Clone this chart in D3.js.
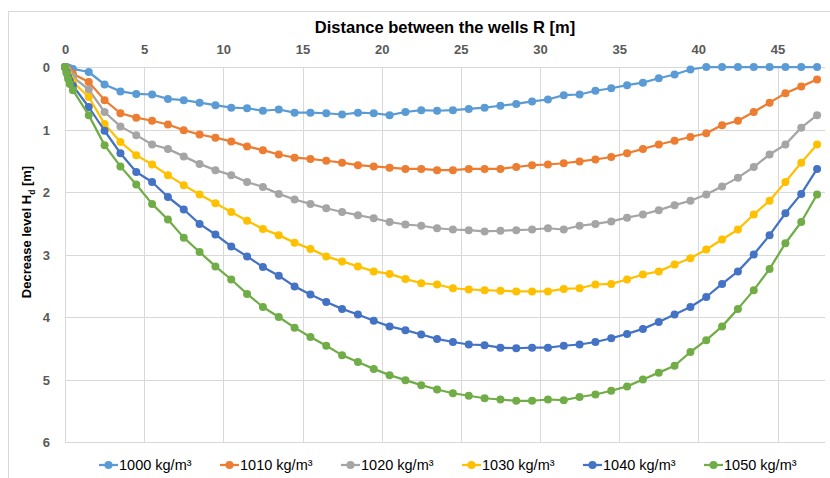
<!DOCTYPE html>
<html>
    <head>
        <script src="https://cdn.jsdelivr.net/npm/d3@7/dist/d3.min.js"></script>
    </head>
    <style>
        body { margin: 0; background: #fff; }
        text { font-family: "Liberation Sans", Arial, sans-serif; }
    </style>
    <body>
        <div id="canvas"></div>
        <script>
            // distance R [m] of every measured point
            var distances = [0, 0.1, 0.2, 0.3, 0.5, 1.5, 2.5, 3.5, 4.5, 5.5, 6.5, 7.5, 8.5, 9.5,
                10.5, 11.5, 12.5, 13.5, 14.5, 15.5, 16.5, 17.5, 18.5, 19.5, 20.5, 21.5, 22.5, 23.5,
                24.5, 25.5, 26.5, 27.5, 28.5, 29.5, 30.5, 31.5, 32.5, 33.5, 34.5, 35.5, 36.5, 37.5,
                38.5, 39.5, 40.5, 41.5, 42.5, 43.5, 44.5, 45.5, 46.5, 47.5];

            var seriesNames = ['1000 kg/m³', '1010 kg/m³', '1020 kg/m³', '1030 kg/m³', '1040 kg/m³', '1050 kg/m³'];

            var h1000 = [0, 0, 0.01, 0.02, 0.03, 0.08, 0.28, 0.39, 0.43, 0.44, 0.51, 0.53, 0.57, 0.61,
                0.65, 0.66, 0.70, 0.68, 0.73, 0.73, 0.74, 0.76, 0.73, 0.74, 0.77, 0.72, 0.69, 0.70,
                0.69, 0.67, 0.65, 0.62, 0.59, 0.55, 0.52, 0.45, 0.44, 0.38, 0.34, 0.29, 0.25, 0.18,
                0.12, 0.04, 0, 0, 0, 0, 0, 0, 0, 0];
            var h1010 = [0, 0.02, 0.05, 0.08, 0.11, 0.24, 0.53, 0.74, 0.81, 0.86, 0.92, 1.01, 1.08, 1.13,
                1.19, 1.27, 1.33, 1.40, 1.45, 1.47, 1.50, 1.53, 1.57, 1.59, 1.61, 1.63, 1.63, 1.65,
                1.65, 1.63, 1.63, 1.63, 1.60, 1.57, 1.56, 1.54, 1.51, 1.48, 1.44, 1.38, 1.31, 1.24,
                1.18, 1.12, 1.06, 0.93, 0.86, 0.72, 0.57, 0.42, 0.31, 0.20];
            var h1020 = [0, 0.04, 0.08, 0.12, 0.16, 0.36, 0.72, 0.95, 1.09, 1.24, 1.31, 1.43, 1.55, 1.65,
                1.73, 1.84, 1.92, 2.03, 2.12, 2.19, 2.26, 2.32, 2.37, 2.42, 2.48, 2.52, 2.54, 2.58,
                2.60, 2.61, 2.63, 2.62, 2.61, 2.60, 2.58, 2.60, 2.54, 2.51, 2.47, 2.41, 2.36, 2.29,
                2.21, 2.14, 2.04, 1.91, 1.77, 1.60, 1.40, 1.24, 0.97, 0.77];
            var h1030 = [0, 0.06, 0.12, 0.18, 0.24, 0.48, 0.91, 1.20, 1.41, 1.56, 1.73, 1.89, 2.04, 2.18,
                2.32, 2.46, 2.59, 2.69, 2.81, 2.91, 3.03, 3.11, 3.19, 3.27, 3.31, 3.39, 3.46, 3.48,
                3.54, 3.56, 3.57, 3.58, 3.59, 3.59, 3.59, 3.55, 3.54, 3.48, 3.47, 3.40, 3.32, 3.27,
                3.16, 3.06, 2.92, 2.76, 2.60, 2.36, 2.14, 1.84, 1.53, 1.24];
            var h1040 = [0, 0.08, 0.16, 0.22, 0.30, 0.64, 1.02, 1.38, 1.68, 1.84, 2.08, 2.28, 2.51, 2.68,
                2.87, 3.03, 3.20, 3.34, 3.51, 3.64, 3.76, 3.87, 3.96, 4.06, 4.15, 4.21, 4.28, 4.35,
                4.40, 4.44, 4.45, 4.49, 4.50, 4.49, 4.49, 4.46, 4.44, 4.40, 4.34, 4.27, 4.19, 4.08,
                3.96, 3.84, 3.68, 3.47, 3.27, 3.00, 2.69, 2.34, 2.03, 1.63];
            var h1050 = [0, 0.10, 0.19, 0.27, 0.37, 0.77, 1.25, 1.59, 1.88, 2.19, 2.44, 2.73, 2.96, 3.19,
                3.40, 3.63, 3.84, 4.00, 4.17, 4.32, 4.46, 4.61, 4.72, 4.83, 4.93, 5.01, 5.09, 5.16,
                5.22, 5.26, 5.30, 5.32, 5.34, 5.34, 5.32, 5.33, 5.28, 5.24, 5.18, 5.11, 5.00, 4.89,
                4.78, 4.56, 4.37, 4.15, 3.87, 3.57, 3.23, 2.82, 2.48, 2.04];

            var xTicks = [0, 5, 10, 15, 20, 25, 30, 35, 40, 45];
            var yTicks = [0, 1, 2, 3, 4, 5, 6];

            var allSeries = [h1000, h1010, h1020, h1030, h1040, h1050];
            var colors = ['#5B9BD5', '#ED7D31', '#A5A5A5', '#FFC000', '#4472C4', '#70AD47'];

            const w = 830;
            const h = 478;
            const margin = { top: 67, right: 5, bottom: 36, left: 65 };

            const svg = d3.select('#canvas')
                .append('svg')
                .attr('width', w)
                .attr('height', h);

            // outer chart frame
            svg.append('rect')
                .attr('x', 8.5).attr('y', 11.5)
                .attr('width', 840).attr('height', 480)
                .attr('fill', 'none')
                .attr('stroke', '#d9d9d9');

            const x = d3.scaleLinear().domain([0, 48]).range([margin.left, w - margin.right]);
            const y = d3.scaleLinear().domain([0, 6]).range([margin.top, h - margin.bottom]);

            // grid
            svg.append('g')
                .selectAll('line')
                .data(yTicks)
                .enter()
                .append('line')
                .attr('x1', x(0)).attr('x2', x(48))
                .attr('y1', d => Math.round(y(d)) + 0.5)
                .attr('y2', d => Math.round(y(d)) + 0.5)
                .attr('stroke', '#d9d9d9');

            svg.append('g')
                .selectAll('line')
                .data(xTicks)
                .enter()
                .append('line')
                .attr('x1', d => Math.round(x(d)) + 0.5)
                .attr('x2', d => Math.round(x(d)) + 0.5)
                .attr('y1', y(0)).attr('y2', y(6))
                .attr('stroke', '#d9d9d9');

            // axes (labels only, Excel style)
            const xAxis = svg.append('g')
                .attr('transform', `translate(0, ${margin.top - 10})`)
                .call(d3.axisTop(x).tickValues(xTicks).tickSize(0).tickFormat(d3.format('d')));
            const yAxis = svg.append('g')
                .attr('transform', `translate(${margin.left - 15}, 0)`)
                .call(d3.axisLeft(y).tickValues(yTicks).tickSize(0).tickFormat(d3.format('d')));

            [xAxis, yAxis].forEach(ax => {
                ax.select('.domain').remove();
                ax.selectAll('text')
                    .attr('fill', '#595959')
                    .attr('font-size', '13px')
                    .attr('font-weight', 'bold')
                    .style('font-family', '"Liberation Sans", Arial, sans-serif');
            });
            yAxis.selectAll('text').attr('dy', '0.35em').attr('x', 0);

            // titles
            svg.append('text')
                .attr('x', (x(0) + x(48)) / 2)
                .attr('y', 33)
                .attr('text-anchor', 'middle')
                .attr('font-size', '16.5px')
                .attr('font-weight', 'bold')
                .attr('fill', '#000')
                .text('Distance between the wells R [m]');

            const yTitle = svg.append('text')
                .attr('transform', 'translate(31, 232) rotate(-90)')
                .attr('text-anchor', 'middle')
                .attr('font-size', '13px')
                .attr('font-weight', 'bold')
                .attr('fill', '#000');
            yTitle.append('tspan').text('Decrease level H');
            yTitle.append('tspan').attr('font-size', '8.5px').attr('dy', 4).text('d');
            yTitle.append('tspan').attr('dy', -4).text(' [m]');

            // lines and markers
            const line = d3.line()
                .x((d, i) => x(distances[i]))
                .y(d => y(d));

            allSeries.forEach((values, s) => {
                const g = svg.append('g');
                g.append('path')
                    .datum(values)
                    .attr('d', line)
                    .attr('fill', 'none')
                    .attr('stroke', colors[s])
                    .attr('stroke-width', 2.25)
                    .attr('stroke-linejoin', 'round');
                g.selectAll('circle')
                    .data(values)
                    .enter()
                    .append('circle')
                    .attr('cx', (d, i) => x(distances[i]))
                    .attr('cy', d => y(d))
                    .attr('r', 4)
                    .attr('fill', colors[s]);
            });

            // legend
            const legend = svg.append('g').attr('transform', 'translate(99, 465)');
            seriesNames.forEach((name, s) => {
                const item = legend.append('g').attr('transform', `translate(${s * 121}, 0)`);
                item.append('line')
                    .attr('x1', 0).attr('x2', 19)
                    .attr('stroke', colors[s])
                    .attr('stroke-width', 2.25);
                item.append('circle')
                    .attr('cx', 9.5).attr('r', 4)
                    .attr('fill', colors[s]);
                item.append('text')
                    .attr('x', 20).attr('dy', '0.35em')
                    .attr('font-size', '14.5px')
                    .attr('fill', '#000')
                    .text(name);
            });
        </script>
    </body>
</html>
